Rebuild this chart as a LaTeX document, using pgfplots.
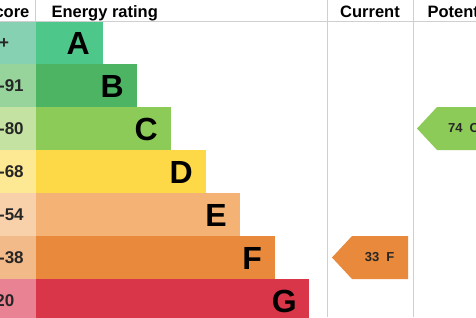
\documentclass[border=0pt]{standalone}
\usepackage{pgfplots}
\pgfplotsset{compat=1.18}
\usepackage{fontspec}
\setmainfont{Liberation Sans}
\definecolor{cA}{HTML}{4EC78A}
\definecolor{cB}{HTML}{4DB464}
\definecolor{cC}{HTML}{8DCB58}
\definecolor{cD}{HTML}{FDD947}
\definecolor{cE}{HTML}{F4B274}
\definecolor{cF}{HTML}{E8893B}
\definecolor{cG}{HTML}{D9364A}
\definecolor{sA}{HTML}{86D1B2}
\definecolor{sB}{HTML}{97D49C}
\definecolor{sC}{HTML}{C4E3A2}
\definecolor{sD}{HTML}{FDE894}
\definecolor{sE}{HTML}{F8D0AA}
\definecolor{sF}{HTML}{F1BA88}
\definecolor{sG}{HTML}{E98292}
\definecolor{gridc}{HTML}{CFCFCF}
\pgfplotsset{rowbar/.style={xbar, bar shift=0pt, bar width=43, draw=none}}
\begin{document}
\begin{tikzpicture}
\clip (0,0) rectangle (476pt,317pt);
\begin{axis}[
  at={(0,0)}, anchor=south west,
  scale only axis, width=476pt, height=317pt,
  xmin=0, xmax=476, ymin=0, ymax=317, y dir=reverse,
  axis lines=none, clip=false,
]
% rating bars (end x, row centre y)
\addplot[rowbar, fill=cA] coordinates {(103,42.5)};
\addplot[rowbar, fill=cB] coordinates {(137,85.5)};
\addplot[rowbar, fill=cC] coordinates {(171,128.5)};
\addplot[rowbar, fill=cD] coordinates {(206,171.5)};
\addplot[rowbar, fill=cE] coordinates {(240,214.5)};
\addplot[rowbar, fill=cF] coordinates {(275,257.5)};
\addplot[rowbar, fill=cG] coordinates {(309,300.5)};
% score cells
\addplot[rowbar, fill=sA] coordinates {(36,42.5)};
\addplot[rowbar, fill=sB] coordinates {(36,85.5)};
\addplot[rowbar, fill=sC] coordinates {(36,128.5)};
\addplot[rowbar, fill=sD] coordinates {(36,171.5)};
\addplot[rowbar, fill=sE] coordinates {(36,214.5)};
\addplot[rowbar, fill=sF] coordinates {(36,257.5)};
\addplot[rowbar, fill=sG] coordinates {(36,300.5)};
% grid lines
\addplot[gridc, line width=0.8pt, mark=none] coordinates {(0,21) (476,21)};
\addplot[gridc, line width=0.8pt, mark=none] coordinates {(35.5,0) (35.5,21)};
\addplot[gridc, line width=0.8pt, mark=none] coordinates {(327,0) (327,317)};
\addplot[gridc, line width=0.8pt, mark=none] coordinates {(413,0) (413,317)};
% arrows
\addplot[fill=cF, draw=none, mark=none] coordinates {(332,257.5) (352,236) (408,236) (408,279) (352,279)} -- cycle;
\addplot[fill=cC, draw=none, mark=none] coordinates {(417,128.5) (437,107) (520,107) (520,150) (437,150)} -- cycle;
% texts
\node[anchor=base west, font=\fontsize{16.5}{18}\selectfont\bfseries] at (axis cs:-20,17) {Score};
\node[anchor=base west, font=\fontsize{16.5}{18}\selectfont\bfseries] at (axis cs:48,17) {Energy rating};
\node[anchor=base, font=\fontsize{16.5}{18}\selectfont\bfseries] at (axis cs:370,17) {Current};
\node[anchor=base west, font=\fontsize{16.5}{18}\selectfont\bfseries] at (axis cs:424,17) {Potential};
\foreach \t/\y in {92+/42.5, 81-91/85.5, 69-80/128.5, 55-68/171.5, 39-54/214.5, 21-38/257.5, 1-20/300.5}{
  \edef\tmp{\noexpand\node[anchor=west, inner sep=0pt, font=\noexpand\fontsize{17}{18}\noexpand\selectfont\noexpand\bfseries, text=black!85] at (axis cs:-20,\y) {\t};}\tmp
}
\foreach \t/\x/\y in {A/90/42.5, B/124/85.5, C/158/128.5, D/193/171.5, E/227/214.5, F/262/257.5, G/297/300.5}{
  \edef\tmp{\noexpand\node[anchor=east, inner sep=0pt, font=\noexpand\fontsize{32}{34}\noexpand\selectfont\noexpand\bfseries] at (axis cs:\x,\y+1) {\t};}\tmp
}
\node[font=\fontsize{13}{15}\selectfont\bfseries, text=black!85] at (axis cs:379.5,257.5) {33\hspace{7pt}F};
\node[anchor=west, inner sep=0pt, font=\fontsize{13}{15}\selectfont\bfseries, text=black!85] at (axis cs:448,128.5) {74\hspace{7pt}C};
\end{axis}
\end{tikzpicture}
\end{document}
